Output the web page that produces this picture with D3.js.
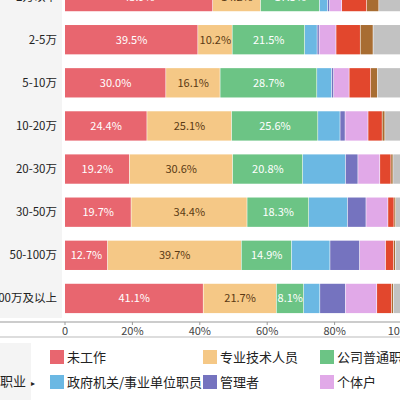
<!DOCTYPE html><html><head><meta charset="utf-8"><script src="https://cdn.jsdelivr.net/npm/d3@7"></script>
<style>body{margin:0;background:#fff}</style></head><body><svg width="400" height="400"></svg><script>
const categories=["2万以下","2-5万","5-10万","10-20万","20-30万","30-50万","50-100万","100万及以上"];
const seriesNames=["未工作","专业技术人员","公司普通职员","政府机关/事业单位职员","管理者","个体户","自由职业","农民","其他"];
const colors=["#e8666f","#f5c886","#6cc485","#6bb8e3","#7573bf","#e1a9e8","#e2472d","#a86d32","#c2c2c2"];
const v0=[43.9,39.5,30.0,24.4,19.2,19.7,12.7,41.1];
const v1=[14.2,10.2,16.1,25.1,30.6,34.4,39.7,21.7];
const v2=[17.5,21.5,28.7,25.6,20.8,18.3,14.9,8.1];
const v3=[2.4,3.7,4.4,6.6,12.7,11.5,11.4,4.8];
const v4=[0.6,0.6,0.6,1.5,3.7,5.5,8.8,7.6];
const v5=[3.6,5.0,4.6,6.8,6.5,6.5,7.7,9.3];
const v6=[7.4,7.2,6.4,4.2,3.3,1.8,2.4,4.4];
const v7=[3.6,3.8,2.0,0.8,0.6,0.5,0.5,0.5];
const v8=[6.8,8.5,7.2,5.0,2.6,1.8,1.9,2.5];
const series=[v0,v1,v2,v3,v4,v5,v6,v7,v8];
const ticks=[0,20,40,60,80,100];
const svg=d3.select("svg");
const font="'Noto Sans CJK SC','Noto Sans',sans-serif";
const x=d3.scaleLinear().domain([0,100]).range([65,402]);
const y=d3.scaleBand().domain(categories).range([-25,320]).paddingInner(0.32).paddingOuter(0.16);
svg.append("rect").attr("x",0).attr("y",0).attr("width",62).attr("height",318).attr("fill","#f4f4f4");
categories.forEach((c,i)=>{
  let acc=0;
  series.forEach((s,k)=>{
    const v=s[i];
    svg.append("rect").attr("x",x(acc)).attr("y",y(c)).attr("width",x(acc+v)-x(acc)-0.6).attr("height",y.bandwidth()).attr("fill",colors[k]);
    if(k<3&&v>=8){
      svg.append("text").attr("x",(x(acc)+x(acc+v))/2).attr("y",y(c)+y.bandwidth()/2+4).attr("text-anchor","middle")
        .attr("font-family",font).attr("font-size",11).attr("fill",k==1?"#5a3a14":"#fff").text(v.toFixed(1)+"%");
    }
    acc+=v;
  });
  svg.append("text").attr("x",57).attr("y",y(c)+y.bandwidth()/2+4).attr("text-anchor","end").attr("font-family",font).attr("font-size",11.5).attr("fill","#222").text(c);
});
svg.append("line").attr("x1",0).attr("x2",400).attr("y1",322).attr("y2",322).attr("stroke","#999");
svg.append("line").attr("x1",0).attr("x2",400).attr("y1",337).attr("y2",337).attr("stroke","#bbb");
ticks.forEach(t=>{
  svg.append("line").attr("x1",x(t)).attr("x2",x(t)).attr("y1",322).attr("y2",325).attr("stroke","#999");
  svg.append("text").attr("x",x(t)).attr("y",335).attr("text-anchor","middle").attr("font-family",font).attr("font-size",11).attr("fill","#444").text(t===0?"0":t+"%");
});
svg.append("rect").attr("x",0).attr("y",343).attr("width",31).attr("height",57).attr("fill","#f4f4f4");
svg.append("text").attr("x",0).attr("y",386).attr("font-family",font).attr("font-size",13).attr("fill","#222").text("职业");
svg.append("text").attr("x",31).attr("y",386).attr("font-family",font).attr("font-size",8).attr("fill","#222").text("▸");
const lx=[50,203,320];
seriesNames.forEach((n,k)=>{
  const col=k%3,row=Math.floor(k/3);
  const yy=350+row*25;
  svg.append("rect").attr("x",lx[col]).attr("y",yy).attr("width",14).attr("height",14).attr("fill",colors[k]);
  svg.append("text").attr("x",lx[col]+17).attr("y",yy+12).attr("font-family",font).attr("font-size",13).attr("fill","#222").text(n);
});
</script></body></html>
